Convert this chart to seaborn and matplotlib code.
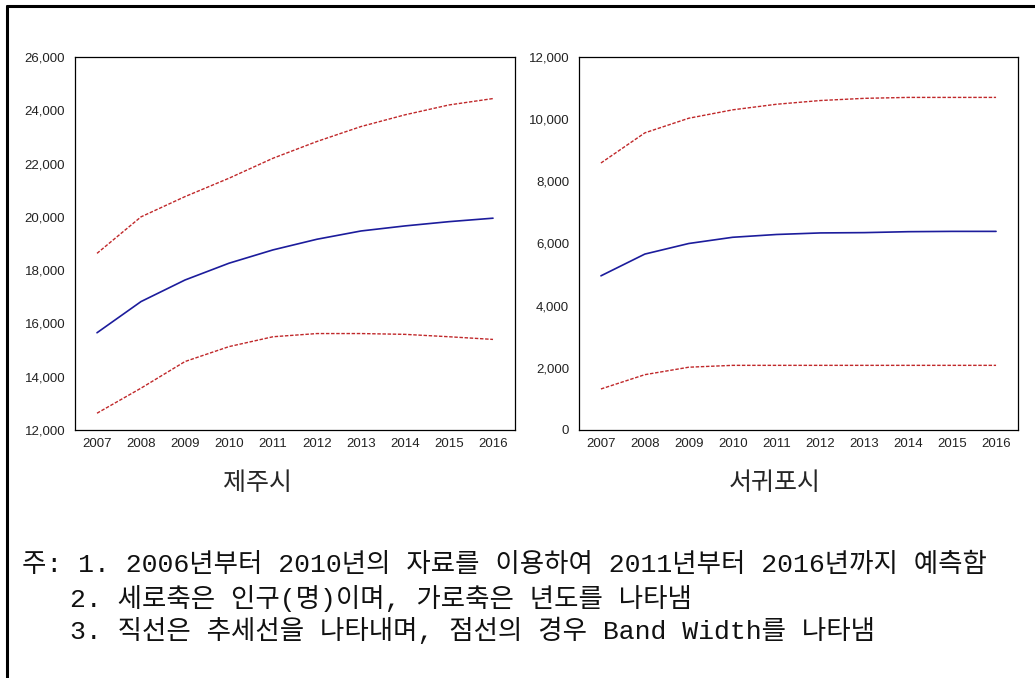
import pandas as pd
import numpy as np
import matplotlib
matplotlib.use("Agg")
import matplotlib.pyplot as plt
import seaborn as sns
from matplotlib.lines import Line2D
from matplotlib.ticker import FuncFormatter, FixedLocator

years = [2007, 2008, 2009, 2010, 2011, 2012, 2013, 2014, 2015, 2016]

# 제주시
jeju_trend = [15650, 16820, 17630, 18260, 18760, 19160, 19470, 19660, 19820, 19950]
jeju_upper = [18630, 20000, 20760, 21450, 22200, 22830, 23390, 23830, 24200, 24440]
jeju_lower = [12630, 13570, 14570, 15130, 15500, 15620, 15620, 15590, 15500, 15400]

# 서귀포시
segw_trend = [4960, 5660, 6000, 6200, 6290, 6340, 6350, 6380, 6390, 6390]
segw_upper = [8590, 9560, 10030, 10300, 10480, 10600, 10670, 10700, 10700, 10700]
segw_lower = [1320, 1780, 2020, 2080, 2080, 2080, 2080, 2080, 2080, 2080]

panel_titles = ["제주시", "서귀포시"]
notes = [
    "주: 1. 2006년부터 2010년의 자료를 이용하여 2011년부터 2016년까지 예측함",
    "2. 세로축은 인구(명)이며, 가로축은 년도를 나타냄",
    "3. 직선은 추세선을 나타내며, 점선의 경우 Band Width를 나타냄",
]

sns.set_style("white")
plt.rcParams['font.family'] = ['Noto Sans CJK KR', 'DejaVu Sans']

W, H = 1035, 678
fig = plt.figure(figsize=(W / 100, H / 100), dpi=100)
ax1 = fig.add_axes([75 / W, 1 - 430 / H, 440 / W, 373 / H])
ax2 = fig.add_axes([579 / W, 1 - 430 / H, 439 / W, 373 / H])

tick_font = ['Liberation Sans', 'DejaVu Sans']


def draw_panel(ax, trend, upper, lower, ylim, ystep):
    df = pd.DataFrame({'year': years, 'trend': trend, 'upper': upper, 'lower': lower})
    sns.lineplot(data=df, x='year', y='upper', ax=ax, color='#c0282a', lw=1.0,
                 linestyle=(0, (2.5, 1.2)))
    sns.lineplot(data=df, x='year', y='lower', ax=ax, color='#c0282a', lw=1.0,
                 linestyle=(0, (2.5, 1.2)))
    sns.lineplot(data=df, x='year', y='trend', ax=ax, color='#1c1c9c', lw=1.2)
    ax.set_xlim(years[0] - 0.5, years[-1] + 0.5)
    ax.set_ylim(*ylim)
    ax.set_xlabel('')
    ax.set_ylabel('')
    # tick marks sit between years, labels centred on years
    ax.xaxis.set_major_locator(FixedLocator(np.arange(years[0] - 0.5, years[-1] + 1, 1.0)))
    ax.xaxis.set_minor_locator(FixedLocator(years))
    ax.xaxis.set_major_formatter(FuncFormatter(lambda v, p: ''))
    ax.xaxis.set_minor_formatter(FuncFormatter(lambda v, p: f"{int(round(v))}"))
    ax.tick_params(axis='x', which='major', direction='out', length=5, width=0.8, color='black')
    ax.tick_params(axis='x', which='minor', length=0, pad=6, labelsize=9.5, labelcolor='#222222')
    ax.set_yticks(np.arange(ylim[0], ylim[1] + 1, ystep))
    ax.yaxis.set_major_formatter(FuncFormatter(lambda v, p: f"{int(v):,}"))
    ax.tick_params(axis='y', direction='out', length=5, width=0.8, color='black',
                   labelsize=9.5, labelcolor='#222222', pad=2)
    for lab in ax.get_xticklabels(minor=True) + ax.get_yticklabels():
        lab.set_family(tick_font)
    for s in ax.spines.values():
        s.set_color('black')
        s.set_linewidth(0.9)


draw_panel(ax1, jeju_trend, jeju_upper, jeju_lower, (12000, 26000), 2000)
draw_panel(ax2, segw_trend, segw_upper, segw_lower, (0, 12000), 2000)

# panel names under each chart
fig.text(257 / W, 1 - 483 / H, panel_titles[0], ha='center', va='center', fontsize=18)
fig.text(775 / W, 1 - 483 / H, panel_titles[1], ha='center', va='center', fontsize=18)

# notes: fixed-width latin + full-width hangul, like the original
note_font = ['Liberation Mono', 'Noto Sans CJK KR']
note_pos = [(22, 565), (70, 598), (70, 630)]
note_objs = []
for txt, (px, py) in zip(notes, note_pos):
    note_objs.append(fig.text(px / W, 1 - py / H, txt, ha='left', va='center',
                              fontsize=18, family=note_font, color='#111111'))
fig.canvas.draw()
w0 = note_objs[0].get_window_extent().width
size = 18 * 965 / w0
for t in note_objs:
    t.set_fontsize(size)

# frame cut off on the right and bottom
fig.add_artist(Line2D([7 / W, 7 / W], [0, 1 - 6 / H], color='black', lw=2.2))
fig.add_artist(Line2D([7 / W, 1], [1 - 6 / H, 1 - 6 / H], color='black', lw=2.2))

fig.savefig('out.png', dpi=100)
